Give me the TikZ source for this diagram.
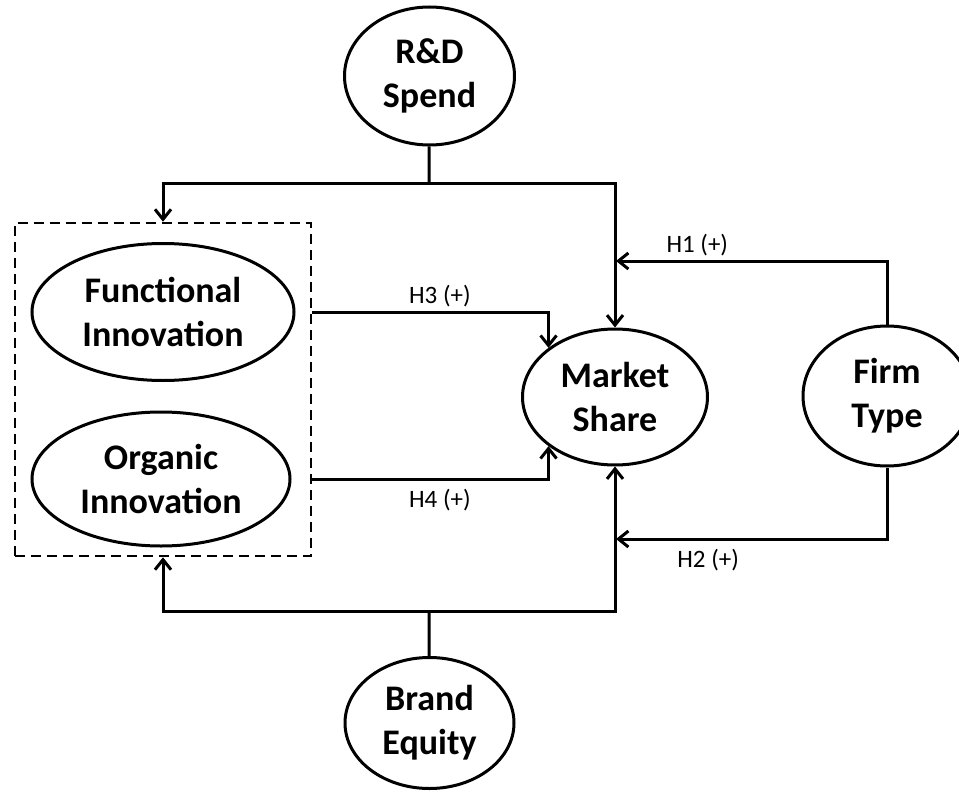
\documentclass[tikz,border=0pt]{standalone}
\usepackage{fontspec}
\setmainfont{Carlito}
\usetikzlibrary{arrows.meta,shapes.geometric}

\begin{document}
\begin{tikzpicture}[x=1pt, y=-1pt,
  line width=3pt,
  >={Straight Barb[length=10pt,width=16pt]},
  construct/.style = {shape=ellipse, draw, inner sep=0pt, align=center,
    font=\fontsize{36}{44}\selectfont\bfseries},
  hyp/.style = {draw=none, font=\fontsize{25}{30}\selectfont, inner sep=3pt}]
  \clip (0,0) rectangle (959,792);

  % constructs
  \node[construct, minimum width=170pt, minimum height=138pt] (rd) at (429.5,76) {R\&D\\Spend};
  \node[construct, minimum width=262pt, minimum height=137pt] (func) at (163,312) {Functional\\Innovation};
  \node[construct, minimum width=258pt, minimum height=134pt] (org) at (161,479) {Organic\\Innovation};
  \node[construct, minimum width=185pt, minimum height=136pt] (share) at (615,397) {Market\\Share};
  \node[construct, minimum width=168pt, minimum height=140pt] (firm) at (887,396) {Firm\\Type};
  \node[construct, minimum width=169pt, minimum height=131pt] (brand) at (429.5,723) {Brand\\Equity};
  \node[draw, dash pattern=on 10pt off 6pt, line width=2.6pt, minimum width=296pt,
    minimum height=333pt] (innov) at (163,389.5) {};

  \coordinate (rdsplit) at (429,183);
  \coordinate (bsplit) at (429,611);
  \coordinate (h1) at (616,261);
  \coordinate (h2) at (616,539);

  % paths
  \draw (rd) -- (rdsplit);
  \draw[->] (rdsplit) -| (innov.north);
  \draw[->] (rdsplit) -| (share.north);
  \draw (brand) -- (bsplit);
  \draw[->] (bsplit) -| (innov.south);
  \draw[->] (bsplit) -| (share.south);
  \draw[->] (innov.east |- func) -| (share.north west)
    node[hyp, pos=0.27, above=1pt] {H3 (+)};
  \draw[->] (innov.east |- org) -| (share.south west)
    node[hyp, pos=0.27, below=6pt] {H4 (+)};
  \draw[->] (firm.north) |- (h1)
    node[hyp, pos=0.85, above=1pt] {H1 (+)};
  \draw[->] (firm.south) |- (h2)
    node[hyp, pos=0.83, below=6pt] {H2 (+)};
\end{tikzpicture}
\end{document}
